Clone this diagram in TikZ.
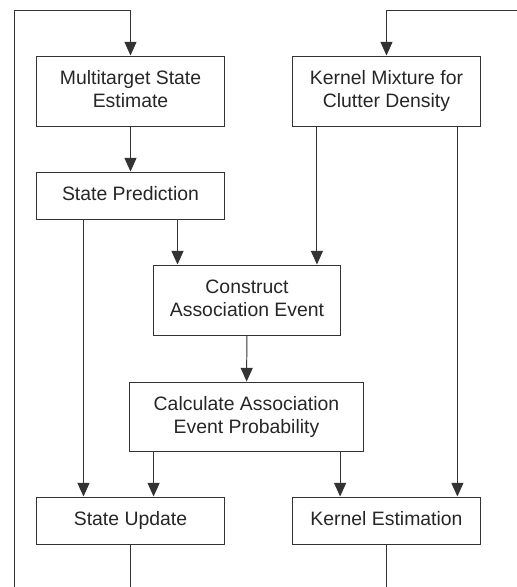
\documentclass[tikz,border=0pt]{standalone}
\usepackage{fontspec}
\setmainfont{Liberation Sans}
\usetikzlibrary{arrows.meta,calc,positioning}
\tikzset{main node/.style={rectangle,draw=black!80,line width=0.7pt,text=black!85,align=center,
            minimum width=4.675cm,inner sep=0pt,text depth=0.25em,font=\fontsize{13.8}{16.4}\selectfont},
         flow/.style={draw=black!80,line width=0.7pt},
         arr/.style={flow,-{Triangle[length=0.34cm,width=0.3cm]}}
}
\begin{document}
\begin{tikzpicture}[x=0.025cm,y=-0.025cm]
\useasboundingbox (0,0) rectangle (517,587);
\node [main node,minimum height=1.75cm] (est) at (130.5,91) {Multitarget State\\Estimate};
\node [main node,minimum height=1.175cm] (pred) at (130.5,195.5) {State Prediction};
\node [main node,minimum height=1.75cm] (mix) at (386.5,91) {Kernel Mixture for\\Clutter Density};
\node [main node,minimum height=1.75cm,minimum width=4.65cm] (cons) at (247,300) {Construct\\Association Event};
\node [main node,minimum height=1.725cm,minimum width=5.825cm] (calc) at (246.5,416.5) {Calculate Association\\Event Probability};
\node [main node,minimum height=1.175cm] (upd) at (130.5,520.5) {State Update};
\node [main node,minimum height=1.175cm] (kern) at (386.5,520.5) {Kernel Estimation};
\coordinate (tl) at (14,10);
\coordinate (bl) at (14,587);
\coordinate (tr) at (517,10);
\coordinate (bu) at (130.5,587);
\coordinate (bk) at (386.5,587);
% feedback
\draw [arr] (bl) -- (tl) -| (est.north);
\draw [arr] (tr) -| (mix.north);
\draw [flow] (upd.south) -- (bu);
\draw [flow] (kern.south) -- (bk);
% main flow
\draw [arr] (est) -- (pred);
\coordinate (p1) at ($(pred.south west)!.25!(pred.south east)$);
\coordinate (p2) at ($(pred.south west)!.75!(pred.south east)$);
\coordinate (m1) at ($(mix.south west)!.13!(mix.south east)$);
\coordinate (m2) at ($(mix.south west)!.877!(mix.south east)$);
\coordinate (c1) at ($(calc.south west)!.103!(calc.south east)$);
\coordinate (c2) at ($(calc.south west)!.9!(calc.south east)$);
\draw [arr] (p1) -- (p1 |- upd.north);
\draw [arr] (p2) -- (p2 |- cons.north);
\draw [arr] (m1) -- (m1 |- cons.north);
\draw [arr] (m2) -- (m2 |- kern.north);
\draw [arr] (cons) -- (calc);
\draw [arr] (c1) -- (c1 |- upd.north);
\draw [arr] (c2) -- (c2 |- kern.north);
\end{tikzpicture}
\end{document}
